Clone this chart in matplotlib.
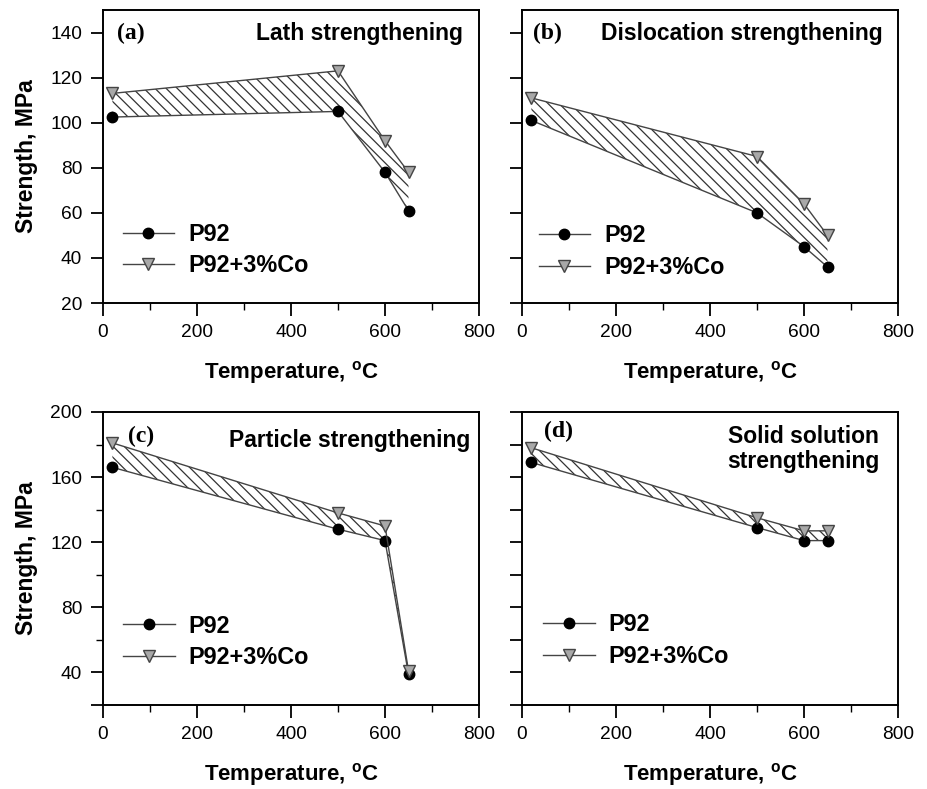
import matplotlib.pyplot as plt
from matplotlib.ticker import MultipleLocator

plt.rcParams['font.family'] = ['Liberation Sans', 'DejaVu Sans']
plt.rcParams['hatch.linewidth'] = 0.9

temp = [20, 500, 600, 650]
lath_p92 = [102.5, 105, 78, 61]
lath_co = [113, 123, 92, 78]
disl_p92 = [101, 60, 45, 36]
disl_co = [111, 85, 64, 50]
part_p92 = [166, 128, 121, 39]
part_co = [181, 138, 130, 41]
solid_p92 = [169, 129, 121, 121]
solid_co = [178, 135, 127, 127]

panels = [
    ('(a)', 'Lath strengthening', lath_p92, lath_co),
    ('(b)', 'Dislocation strengthening', disl_p92, disl_co),
    ('(c)', 'Particle strengthening', part_p92, part_co),
    ('(d)', 'Solid solution\nstrengthening', solid_p92, solid_co),
]

fig = plt.figure(figsize=(9.27, 7.89), dpi=100)
W, H = 927, 789
boxes = [(103, 10), (522, 10), (103, 412), (522, 412)]
aw, ah = 376, 293

tag_pos = [(0.037, 0.92), (0.03, 0.92), (0.067, 0.916), (0.059, 0.933)]
title_pos = [(0.957, 0.92), (0.959, 0.92), (0.976, 0.904), (0.952, 0.874)]
leg_pos = [(0.009, 0.032), (0.001, 0.027), (0.011, 0.067), (0.013, 0.071)]

line_c = '#444444'
for i, (tag, title, p92, co) in enumerate(panels):
    x0, y0 = boxes[i]
    ax = fig.add_axes([x0 / W, 1 - (y0 + ah) / H, aw / W, ah / H])
    ax.fill_between(temp, p92, co, facecolor='none', edgecolor='#333333',
                    linewidth=0, hatch='\\\\\\')
    ax.plot(temp, p92, '-', color=line_c, lw=1.0, marker='o', ms=7.5,
            mfc='black', mec='black', label='P92', zorder=3)
    ax.plot(temp, co, '-', color=line_c, lw=1.0, marker='v', ms=8,
            mfc='#a8a8a8', mec='#444444', mew=1.0, label='P92+3%Co', zorder=3)

    ax.set_xlim(0, 800)
    ax.xaxis.set_major_locator(MultipleLocator(200))
    ax.xaxis.set_minor_locator(MultipleLocator(100))
    if i < 2:
        ax.set_ylim(20, 150)
        ax.set_yticks(range(20, 141, 20))
    else:
        ax.set_ylim(20, 200)
        if i == 2:
            ax.set_yticks([20, 40, 80, 120, 160, 200])
            ax.set_yticklabels(['', '40', '80', '120', '160', '200'])
            ax.yaxis.set_minor_locator(MultipleLocator(20))
        else:
            ax.set_yticks(range(20, 201, 20))
    if i % 2 == 1:
        ax.set_yticklabels([])
    else:
        ax.set_ylabel('Strength, MPa', fontsize=16.5, fontweight='bold', labelpad=9)
    ax.set_xlabel('Temperature, $\\mathregular{^{o}}$C', fontsize=16,
                  fontweight='bold', labelpad=13)

    ax.tick_params(which='major', direction='out', length=9, width=1.3,
                   labelsize=13.8, pad=6)
    ax.tick_params(which='minor', direction='out', length=5, width=1.0)
    for s in ax.spines.values():
        s.set_linewidth(1.4)

    ax.text(*tag_pos[i], tag, transform=ax.transAxes, fontsize=17,
            fontweight='bold', family='Liberation Serif', va='center', ha='left')
    ax.text(*title_pos[i], title, transform=ax.transAxes, fontsize=16.5,
            fontweight='bold', va='center', ha='right', multialignment='center',
            linespacing=1.15)
    ax.legend(loc='lower left', bbox_to_anchor=leg_pos[i], frameon=False,
              prop={'size': 16.8, 'weight': 'bold'}, handlelength=2.2,
              handletextpad=0.6, labelspacing=0.36, borderpad=0.2)

plt.savefig('out.png', dpi=100)
